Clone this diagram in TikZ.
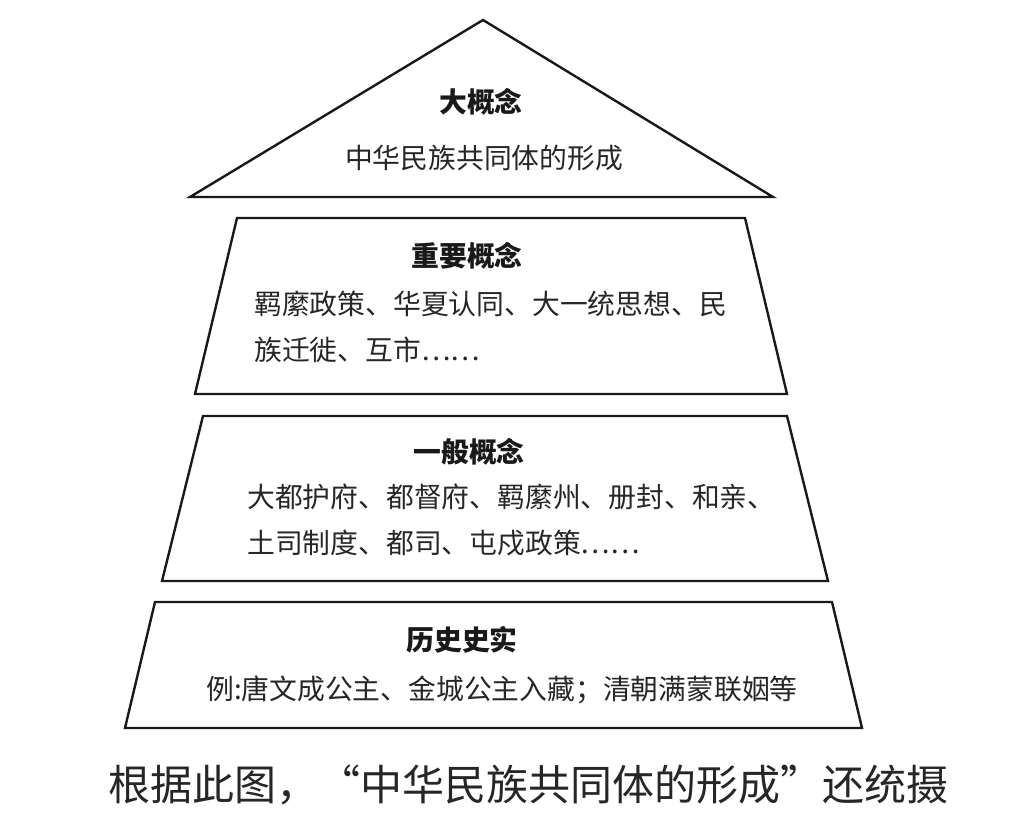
\documentclass[tikz,border=0pt]{standalone}
\usepackage{fontspec}
\usepackage{xcolor}
\setmainfont{Noto Sans CJK SC}
\usetikzlibrary{positioning}
\newcommand{\layerfont}{\fontsize{27.8}{32}\selectfont}
\newcommand{\capfont}{\fontsize{42}{48}\selectfont}

\begin{document}
\begin{tikzpicture}[x=1pt, y=-1pt, line width=2.4pt, line join=miter]
    \useasboundingbox (0,0) rectangle (1020,840);
    \tikzset{
        title/.style={font=\layerfont\bfseries, text=black!90, inner sep=0pt},
        item/.style={font=\layerfont, text=black!85, inner sep=0pt, anchor=west}
    }

    % Top: big concept
    \draw[black!90] (483,20) -- (773,197) -- (190,197) -- cycle;
    \node[title] (bigT) at (481,102) {大概念};
    \node[font=\layerfont, text=black!85, inner sep=0pt] (bigL) at (484,158) {中华民族共同体的形成};

    % Important concepts
    \draw[black!90] (237,218) -- (745,218) -- (787,394) -- (195,394) -- cycle;
    \node[title] (impT) at (467,256) {重要概念};
    \node[item] (impA) at (253,304) {羁縻政策、华夏认同、大一统思想、民};
    \node[item] (impB) at (253,350) {族迁徙、互市……};

    % General concepts
    \draw[black!90] (203,416) -- (787,416) -- (828,581) -- (162,581) -- cycle;
    \node[title] (genT) at (469,452) {一般概念};
    \node[item] (genA) at (246,497) {大都护府、都督府、羁縻州、册封、和亲、};
    \node[item] (genB) at (246,543) {土司制度、都司、屯戍政策……};

    % Historical facts
    \draw[black!90] (155,602) -- (832,602) -- (862,728) -- (125,728) -- cycle;
    \node[title] (hisT) at (462,640) {历史史实};
    \node[item] (hisA) at (205,690) {例:唐文成公主、金城公主入藏；清朝满蒙联姻等};

    % Caption line below
    \node[font=\capfont, text=black!85, inner sep=0pt, anchor=west] (cap) at (107,785) {根据此图，“中华民族共同体的形成”还统摄};
\end{tikzpicture}
\end{document}
